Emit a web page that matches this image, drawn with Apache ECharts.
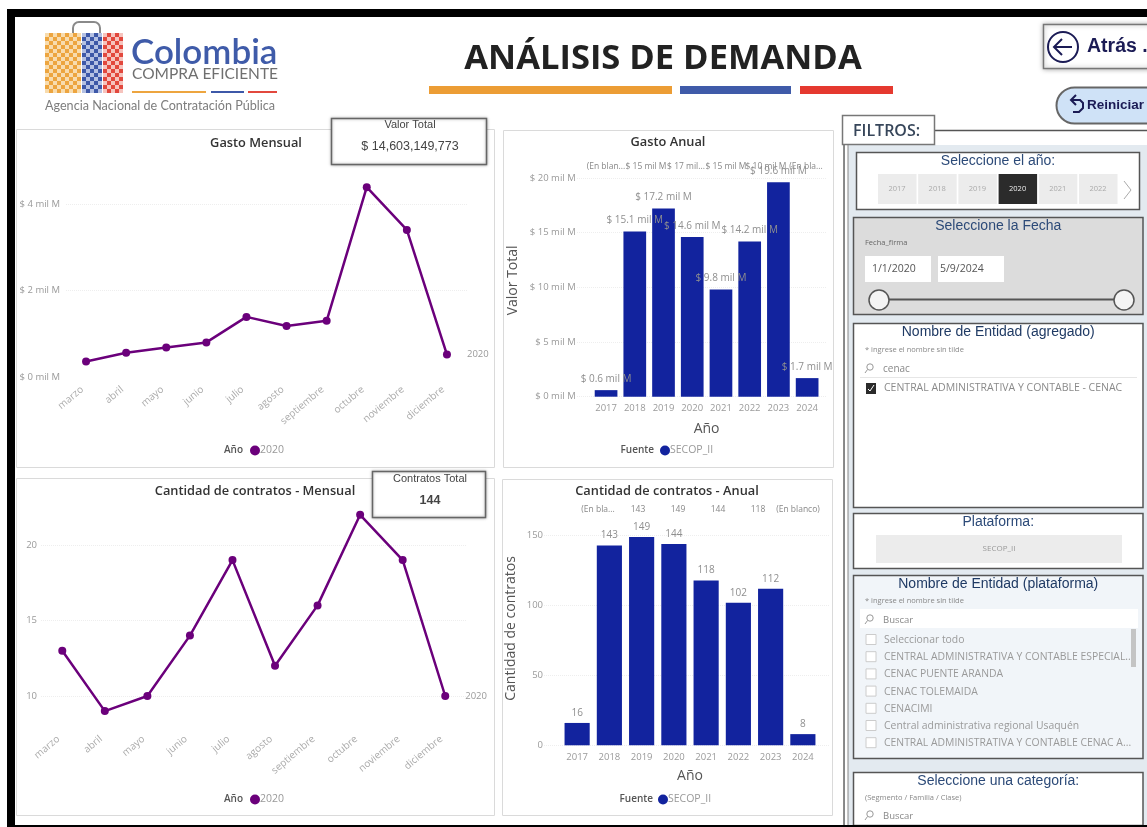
<!DOCTYPE html>
<html>
<head>
<meta charset="utf-8">
<title>Análisis de demanda</title>
<script src="https://cdn.jsdelivr.net/npm/echarts@6/dist/echarts.min.js"></script>
<style>
  html, body { margin: 0; padding: 0; background: #fff; }
  #main { width: 1147px; height: 827px; }
</style>
</head>
<body>
<div id="main"></div>
<script>
// data
var months = ['marzo', 'abril', 'mayo', 'junio', 'julio', 'agosto', 'septiembre', 'octubre', 'noviembre', 'diciembre'];
var years = ['2017', '2018', '2019', '2020', '2021', '2022', '2023', '2024'];
var gastoMensual = [0.36, 0.56, 0.68, 0.80, 1.39, 1.18, 1.30, 4.39, 3.40, 0.52];
var contratosMensual = [13, 9, 10, 14, 19, 12, 16, 22, 19, 10];
var gastoAnual = [0.6, 15.1, 17.2, 14.6, 9.8, 14.2, 19.6, 1.7];
var contratosAnual = [16, 143, 149, 144, 118, 102, 112, 8];
var gastoHeader = ['(En blan...', '$ 15 mil M', '$ 17 mil...', '$ 15 mil M', '$ 10 mil M', '(En bla...'];
var contratosHeader = ['(En bla...', '143', '149', '144', '118', '(En blanco)'];
var yearButtons = ['2017', '2018', '2019', '2020', '2021', '2022'];
var entidadList = ['Seleccionar todo', 'CENTRAL ADMINISTRATIVA Y CONTABLE ESPECIAL...', 'CENAC PUENTE ARANDA', 'CENAC TOLEMAIDA', 'CENACIMI', 'Central administrativa regional Usaquén', 'CENTRAL ADMINISTRATIVA Y CONTABLE CENAC A...'];

var PURPLE = '#6B007B';
var NAVY = '#12239E';
var SANS = '"Open Sans", sans-serif';
var ARIAL = '"Liberation Sans", sans-serif';
var TICK = '#9a9a9a';

var g = [];

function rect(x, y, w, h, fill, stroke, lw, z, extra) {
  var style = { fill: fill || 'transparent', stroke: stroke || null, lineWidth: lw || 0 };
  if (extra) { for (var k in extra) { style[k] = extra[k]; } }
  g.push({ type: 'rect', z: z || 0, shape: { x: x, y: y, width: w, height: h, r: (extra && extra.r) || 0 }, style: style, silent: true });
}
function txt(x, y, s, size, color, font, weight, align, z, maxWidth) {
  var el = {
    type: 'text', z: z || 1, x: x, y: y, silent: true,
    style: { text: s, fontSize: size, fill: color, fontFamily: font || SANS, fontWeight: weight || 'normal', align: align || 'left', verticalAlign: 'middle' }
  };
  if (maxWidth) { el.style.width = maxWidth; el.style.overflow = 'truncate'; el.style.ellipsis = ''; }
  g.push(el);
}
function line(x1, y1, x2, y2, color, lw, z) {
  g.push({ type: 'line', z: z || 1, silent: true, shape: { x1: x1, y1: y1, x2: x2, y2: y2 }, style: { stroke: color, lineWidth: lw } });
}
function poly(points, color, lw, z) {
  g.push({ type: 'polyline', z: z || 1, silent: true, shape: { points: points }, style: { stroke: color, lineWidth: lw, fill: 'transparent' } });
}
function circle(cx, cy, r, fill, stroke, lw, z) {
  g.push({ type: 'circle', z: z || 1, silent: true, shape: { cx: cx, cy: cy, r: r }, style: { fill: fill, stroke: stroke, lineWidth: lw } });
}
function searchIcon(x, y) {
  circle(x + 4, y - 2, 3.2, 'transparent', '#999', 1, 3);
  line(x + 1.5, y + 0.5, x - 1, y + 4, '#999', 1, 3);
}

// black frame of the screenshot
rect(7, 9, 1140, 8, '#000');
rect(7, 9, 8, 818, '#000');
rect(7, 825, 1140, 2, '#000');

// logo
var logoParts = [
  { x: 45, w: 37, a: '#eda53f', b: '#f8dcae' },
  { x: 82, w: 21, a: '#3d58a8', b: '#b4c0e2' },
  { x: 103, w: 21, a: '#e2483d', b: '#f6c3bd' }
];
g.push({ type: 'rect', z: 1, silent: true, shape: { x: 73, y: 22, width: 27, height: 22, r: 6 }, style: { fill: 'transparent', stroke: '#8a8a8a', lineWidth: 2 } });
logoParts.forEach(function (p) {
  for (var row = 0; row < 15; row++) {
    for (var col = 0; col < Math.round(p.w / 4); col++) {
      rect(p.x + col * 4, 33 + row * 4, 4, 4, (row + col) % 2 ? p.a : p.b, null, 0, 2);
    }
  }
});
txt(131, 53, 'Colombia', 35, '#3f5ba9', 'Lato', '600');
txt(132, 74, 'COMPRA EFICIENTE', 15.5, '#6f6f6f', 'Lato', 'normal');
rect(132, 91, 74, 2, '#eda53f');
rect(211, 91, 33, 2, '#3d58a8');
rect(248, 91, 29, 2, '#e2483d');
txt(45, 106, 'Agencia Nacional de Contratación Pública', 12.6, '#7d7d7d', 'Lato');

// heading
txt(663, 59, 'ANÁLISIS DE DEMANDA', 34.5, '#222', SANS, 'bold', 'center');
rect(429, 86, 243, 8, '#ec9d35');
rect(680, 86, 111, 8, '#3f5ba9');
rect(800, 86, 93, 8, '#e5392f');

// chart panels
rect(16.5, 129.5, 478, 338, '#fff', '#dadada', 1);
rect(503.5, 130.5, 330, 337, '#fff', '#dadada', 1);
rect(16.5, 478.5, 478, 337, '#fff', '#dadada', 1);
rect(502.5, 479.5, 330, 336, '#fff', '#dadada', 1);

txt(256, 143, 'Gasto Mensual', 12.8, '#333', SANS, '600', 'center');
txt(668, 142, 'Gasto Anual', 12.8, '#333', SANS, '600', 'center');
txt(255, 491, 'Cantidad de contratos - Mensual', 12.8, '#333', SANS, '600', 'center');
txt(667, 491, 'Cantidad de contratos - Anual', 12.8, '#333', SANS, '600', 'center');

txt(243, 450, 'Año', 10, '#555', SANS, '600', 'right');
txt(243, 799, 'Año', 10, '#555', SANS, '600', 'right');
txt(654, 450, 'Fuente', 10, '#555', SANS, '600', 'right');
txt(653, 799, 'Fuente', 10, '#555', SANS, '600', 'right');

// headers of the small multiples
gastoHeader.forEach(function (s, i) {
  txt(606 + i * 40, 167, s, 8.5, '#888', SANS, 'normal', 'center', 6);
});
contratosHeader.forEach(function (s, i) {
  txt(598 + i * 40, 510, s, 8.5, '#888', SANS, 'normal', 'center', 6);
});

// KPI boxes
rect(331.5, 118.5, 155, 46, '#fff', '#666', 1.5, 10, { shadowBlur: 3, shadowColor: 'rgba(0,0,0,0.35)' });
txt(410, 125, 'Valor Total', 11, '#444', ARIAL, 'normal', 'center', 11);
txt(410, 147, '$ 14,603,149,773', 12.5, '#444', ARIAL, 'normal', 'center', 11);
rect(372.5, 471.5, 113, 46, '#fff', '#666', 1.5, 10, { shadowBlur: 3, shadowColor: 'rgba(0,0,0,0.35)' });
txt(430, 479, 'Contratos Total', 11, '#444', ARIAL, 'normal', 'center', 11);
txt(430, 501, '144', 12.5, '#444', ARIAL, 'bold', 'center', 11);

// buttons
rect(1043.5, 24.5, 110, 44, '#fff', '#777', 1.5, 3, { shadowBlur: 5, shadowColor: 'rgba(0,0,0,0.35)' });
circle(1063, 47, 15, 'transparent', '#1b1b55', 2, 4);
poly([[1072, 47], [1054, 47]], '#1b1b55', 2, 4);
poly([[1062, 39], [1054, 47], [1062, 55]], '#1b1b55', 2, 4);
txt(1087, 47, 'Atrás .', 19.5, '#1b1b55', ARIAL, 'bold', 'left', 4);
rect(1056.5, 87.5, 110, 36, '#cfe2f7', '#666', 2, 3, { r: 18 });
poly([[1072, 100], [1080, 100], [1083, 103], [1083, 108], [1079, 112], [1073, 112]], '#1b1b55', 2, 4);
poly([[1076, 95], [1071, 100], [1076, 105]], '#1b1b55', 2, 4);
txt(1087, 105, 'Reiniciar', 13.5, '#1b1b55', ARIAL, 'bold', 'left', 4);

// filter column
rect(844, 145, 303, 680, '#e3eaf0');
rect(845, 145, 3, 680, '#fff');
line(844, 145, 844, 825, '#666', 1.5);
line(848, 145, 848, 825, '#888', 1);
line(934, 130.5, 1147, 130.5, '#555', 1.5);
rect(842.5, 115.5, 92, 29, '#fff', '#777', 1.5, 2);
txt(853, 131, 'FILTROS:', 16, '#37465a', SANS, '600', 'left', 3);

function block(y, h, fill, title, titleColor, x, w) {
  rect(x || 853.5, y + 0.5, w || 289.5, h, fill, '#555', 1.5, 1);
  txt((x || 853.5) + (w || 289.5) / 2, y + 9, title, 14, titleColor, ARIAL, 'normal', 'center', 3);
}

block(152, 57, '#fff', 'Seleccione el año:', '#2c4a78', 856.5, 283);
yearButtons.forEach(function (s, i) {
  var sel = s === '2020';
  rect(878 + i * 40.2, 174, 38.5, 30, sel ? '#2b2b2b' : '#ececec', null, 0, 3);
  txt(897 + i * 40.2, 189, s, 7.5, sel ? '#eee' : '#aaa', SANS, 'normal', 'center', 4);
});
poly([[1124, 181], [1131, 190], [1124, 199]], '#aaa', 1, 4);

block(217, 97, '#dcdcdc', 'Seleccione la Fecha', '#2c4a78');
txt(865, 243, 'Fecha_firma', 7.5, '#666', SANS, 'normal', 'left', 3);
rect(865, 256, 66, 26, '#fff', null, 0, 3);
rect(938, 256, 66, 26, '#fff', null, 0, 3);
txt(872, 269, '1/1/2020', 10.5, '#555', SANS, 'normal', 'left', 4);
txt(940, 269, '5/9/2024', 10.5, '#555', SANS, 'normal', 'left', 4);
line(879, 299.5, 1125, 299.5, '#555', 2, 3);
circle(879, 300, 10, '#f4f4f4', '#555', 1.5, 4);
circle(1124, 300, 10, '#f4f4f4', '#555', 1.5, 4);

block(323, 184, '#fff', 'Nombre de Entidad (agregado)', '#1f3a64');
txt(865, 350, '* ingrese el nombre sin tilde', 7.5, '#888', SANS, 'normal', 'left', 3);
searchIcon(866, 369);
txt(883, 369, 'cenac', 10, '#888', SANS, 'normal', 'left', 3);
line(860, 377.5, 1137, 377.5, '#e6e6e6', 1, 3);
rect(866, 383, 10, 11, '#2b2b2b', null, 0, 3);
poly([[868, 389], [870, 391], [874, 385]], '#fff', 1, 4);
txt(884, 388, 'CENTRAL ADMINISTRATIVA Y CONTABLE - CENAC', 10.5, '#8a8a8a', SANS, 'normal', 'left', 3);

block(513, 55, '#fff', 'Plataforma:', '#2c4a78');
rect(876, 535, 246, 28, '#ececec', null, 0, 3);
txt(999, 549, 'SECOP_II', 8, '#999', SANS, 'normal', 'center', 4);

block(575, 183, '#f1f5f9', 'Nombre de Entidad (plataforma)', '#1f3a64');
txt(865, 601, '* ingrese el nombre sin tilde', 7.5, '#888', SANS, 'normal', 'left', 3);
rect(860, 609, 278, 19, '#fff', null, 0, 3);
searchIcon(866, 620);
txt(883, 620, 'Buscar', 9.5, '#888', SANS, 'normal', 'left', 4);
entidadList.forEach(function (s, i) {
  var y = 640 + i * 17.2;
  rect(866, y - 5.5, 10, 10, '#fff', '#ccc', 1, 3);
  txt(884, y, s, 10.4, '#9a9a9a', SANS, 'normal', 'left', 3, 250);
});
rect(1131, 629, 5, 38, '#c4c4c4', null, 0, 4);

block(772, 53, '#fff', 'Seleccione una categoría:', '#2c4a78');
txt(865, 798, '(Segmento / Familia / Clase)', 7.5, '#888', SANS, 'normal', 'left', 3);
searchIcon(866, 816);
txt(883, 816, 'Buscar', 9.5, '#888', SANS, 'normal', 'left', 3);
// cover the lower edge of the last block with the frame
rect(844, 825, 303, 2, '#000', null, 0, 5);

function legendAt(left, top, name, color) {
  return {
    left: left, top: top, padding: 0, data: [{ name: name, itemStyle: { color: color, opacity: 1 } }], icon: 'circle',
    itemWidth: 10, itemHeight: 10, selectedMode: false,
    textStyle: { color: '#999', fontSize: 10.5, fontFamily: SANS, padding: [0, 0, 0, -5] }
  };
}
function valueFmt(v) { return '$ ' + v + ' mil M'; }
function splitFaint() { return { show: true, showMinLine: false, showMaxLine: false, lineStyle: { color: '#eeeeee', type: 'dotted', width: 1 } }; }

function monthAxis(idx, margin, offset) {
  return {
    type: 'category', gridIndex: idx, data: months, offset: offset,
    axisLine: { show: false }, axisTick: { show: false },
    axisLabel: { rotate: 40, interval: 0, margin: margin, color: '#aaa', fontSize: 10, fontFamily: SANS, padding: [0, 5, 0, 0] }
  };
}
function yearAxis(idx, name, gap) {
  return {
    type: 'category', gridIndex: idx, data: years, name: name, nameLocation: 'middle', nameGap: gap,
    nameTextStyle: { color: '#555', fontSize: 14, fontFamily: SANS },
    axisLine: { show: false }, axisTick: { show: false },
    axisLabel: { interval: 0, margin: 7, color: TICK, fontSize: 9.5, fontFamily: SANS }
  };
}
function valAxis(idx, min, max, interval, fmt, margin, name, nameGap, nameShift) {
  return {
    type: 'value', gridIndex: idx, min: min, max: max, interval: interval,
    name: name, nameLocation: 'middle', nameGap: nameGap, nameRotate: 90,
    nameTextStyle: { color: '#555', fontSize: 14, fontFamily: SANS, padding: [0, 0, 0, nameShift || 0] },
    axisLine: { show: false }, axisTick: { show: false }, splitLine: name ? { show: false } : splitFaint(),
    axisLabel: { formatter: fmt, margin: margin, color: TICK, fontSize: 9.5, fontFamily: SANS, showMaxLabel: name ? true : false, showMinLabel: true }
  };
}
// gridlines of the bar charts run wider than their bars, so they get a grid of their own
function gridlineAxis(idx, min, max, interval) {
  return {
    type: 'value', gridIndex: idx, min: min, max: max, interval: interval,
    axisLine: { show: false }, axisTick: { show: false }, axisLabel: { show: false },
    splitLine: { show: true, lineStyle: { color: '#eeeeee', type: 'dotted', width: 1 } }
  };
}
function lineSeries(idx, values) {
  return {
    name: '2020', type: 'line', xAxisIndex: idx, yAxisIndex: idx, data: values, z: 5, clip: false,
    symbol: 'circle', symbolSize: 8, itemStyle: { color: PURPLE }, lineStyle: { color: PURPLE, width: 2.5 },
    endLabel: { show: true, formatter: '{a}', color: TICK, fontSize: 9.5, fontFamily: SANS, distance: 20 }
  };
}
function barSeries(idx, values, gap, fmt, dist) {
  return {
    name: 'SECOP_II', type: 'bar', xAxisIndex: idx, yAxisIndex: idx, data: values, barCategoryGap: gap, z: 5,
    itemStyle: { color: NAVY },
    label: { show: true, position: 'top', distance: dist, formatter: fmt, color: '#8f8f8f', fontSize: 10, fontFamily: SANS }
  };
}

var axisMensual = valAxis(0, 0, 6, 2, valueFmt, 6);
var axisCantidad = valAxis(2, 5, 25, 5, null, 4);
axisCantidad.axisLabel.showMinLabel = false;

var option = {
  animation: false,
  backgroundColor: '#fff',
  graphic: { elements: g },
  grid: [
    { left: 66, top: 117.5, width: 401, height: 259.5 },
    { left: 591.7, top: 178, width: 229.8, height: 218.7 },
    { left: 41, top: 469.5, width: 425.5, height: 302 },
    { left: 561, top: 535.7, width: 258, height: 209.6 },
    { left: 577, top: 178, width: 250, height: 218.7 },
    { left: 544, top: 535.7, width: 286, height: 209.6 }
  ],
  legend: [
    legendAt(250, 445, '2020', PURPLE),
    legendAt(660, 445, 'SECOP_II', NAVY),
    legendAt(250, 794, '2020', PURPLE),
    legendAt(658, 794, 'SECOP_II', NAVY)
  ],
  xAxis: [
    monthAxis(0, 8, 0),
    yearAxis(1, 'Año', 25),
    monthAxis(2, 2, -39),
    yearAxis(3, 'Año', 24),
    { type: 'category', gridIndex: 4, show: false },
    { type: 'category', gridIndex: 5, show: false }
  ],
  yAxis: [
    axisMensual,
    valAxis(1, 0, 20, 5, valueFmt, 16, 'Valor Total', 72, 14),
    axisCantidad,
    valAxis(3, 0, 150, 50, null, 18, 'Cantidad de contratos', 43, 24),
    gridlineAxis(4, 0, 20, 5),
    gridlineAxis(5, 0, 150, 50)
  ],
  series: [
    lineSeries(0, gastoMensual),
    barSeries(1, gastoAnual, '21%', function (p) { return '$ ' + p.value.toFixed(1) + ' mil M'; }, 6),
    lineSeries(2, contratosMensual),
    barSeries(3, contratosAnual, '22%', '{c}', 5)
  ]
};

var myChart = echarts.init(document.getElementById('main'));
myChart.setOption(option);
</script>
</body>
</html>
